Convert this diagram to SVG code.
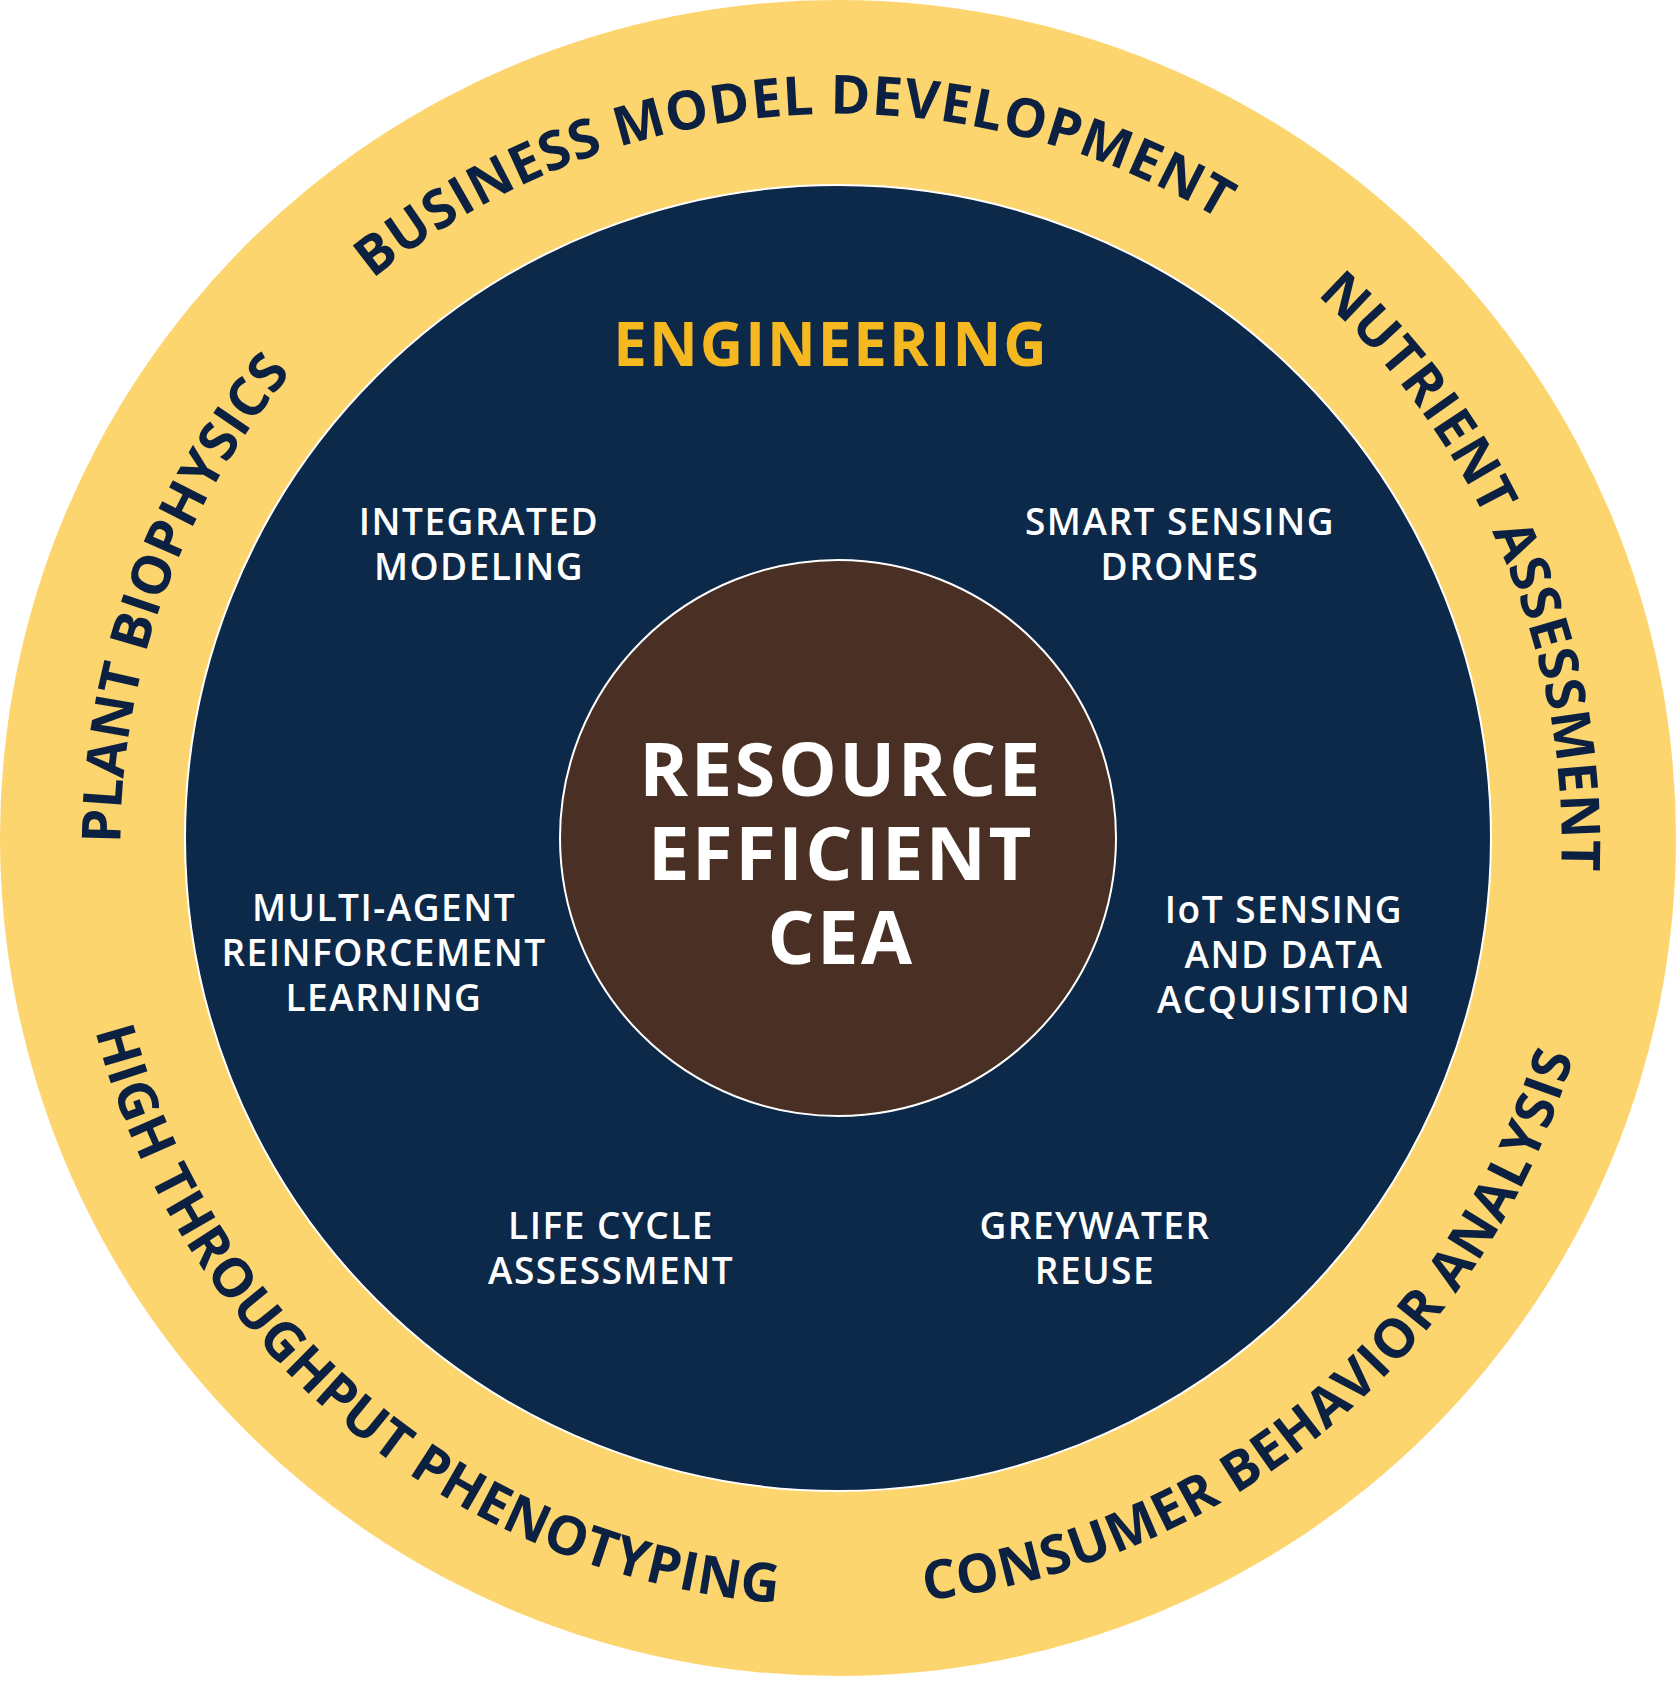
<svg xmlns="http://www.w3.org/2000/svg" width="1676" height="1687" viewBox="0 0 1676 1687">
<style>
.ring{font-family:"Open Sans","Liberation Sans",sans-serif;font-weight:700;font-size:54px;fill:#0C2142}
.lbl{font-family:"Open Sans","Liberation Sans",sans-serif;font-weight:600;font-size:37px;fill:#fff;text-anchor:middle;letter-spacing:1.5px}
.core{font-family:"Open Sans","Liberation Sans",sans-serif;font-weight:700;font-size:74px;fill:#fff;text-anchor:middle;letter-spacing:2.5px}
.eng{font-family:"Open Sans","Liberation Sans",sans-serif;font-weight:700;font-size:60px;fill:#F5B820;text-anchor:middle;letter-spacing:2px}
</style>
<defs>
<path id="pBus" d="M 100 890 A 740 740 0 0 1 1576 786"/>
<path id="pNut" d="M 549 157 A 740 740 0 0 1 1127 1519"/>
<path id="pPla" d="M 585 1533 A 740 740 0 0 1 1091 143"/>
<path id="pHig" d="M 250 345 A 767 767 0 0 0 1426 1331"/>
<path id="pCon" d="M 250 1331 A 767 767 0 0 0 1426 345"/>
</defs>
<g id="outer"><circle cx="838" cy="838" r="838" fill="#FDD56E"/></g>
<g id="engineering"><circle cx="838" cy="838" r="653" fill="#0C2949" stroke="#fff" stroke-width="2"/></g>
<g id="core"><circle cx="838" cy="838" r="278" fill="#4A3024" stroke="#fff" stroke-width="2"/></g>
<g id="ring-labels">
<text class="ring"><textPath href="#pBus" startOffset="50%" text-anchor="middle" textLength="905" lengthAdjust="spacing">BUSINESS MODEL DEVELOPMENT</textPath></text>
<text class="ring"><textPath href="#pNut" startOffset="50%" text-anchor="middle" textLength="646" lengthAdjust="spacing">NUTRIENT ASSESSMENT</textPath></text>
<text class="ring"><textPath href="#pPla" startOffset="50%" text-anchor="middle" textLength="511" lengthAdjust="spacing">PLANT BIOPHYSICS</textPath></text>
<text class="ring"><textPath href="#pHig" startOffset="50%" text-anchor="middle" textLength="950" lengthAdjust="spacing">HIGH THROUGHPUT PHENOTYPING</textPath></text>
<text class="ring"><textPath href="#pCon" startOffset="50%" text-anchor="middle" textLength="897" lengthAdjust="spacing">CONSUMER BEHAVIOR ANALYSIS</textPath></text>
</g>
<g id="title"><text class="eng" x="831" y="366">ENGINEERING</text></g>
<g id="n-modeling"><text class="lbl" x="479" y="535">INTEGRATED</text><text class="lbl" x="479" y="580">MODELING</text></g>
<g id="n-drones"><text class="lbl" x="1180" y="535">SMART SENSING</text><text class="lbl" x="1180" y="580">DRONES</text></g>
<g id="n-marl"><text class="lbl" x="384" y="921">MULTI-AGENT</text><text class="lbl" x="384" y="966">REINFORCEMENT</text><text class="lbl" x="384" y="1011">LEARNING</text></g>
<g id="n-iot"><text class="lbl" x="1284" y="923">IoT SENSING</text><text class="lbl" x="1284" y="968">AND DATA</text><text class="lbl" x="1284" y="1013">ACQUISITION</text></g>
<g id="n-lca"><text class="lbl" x="611" y="1239">LIFE CYCLE</text><text class="lbl" x="611" y="1284">ASSESSMENT</text></g>
<g id="n-grey"><text class="lbl" x="1095" y="1239">GREYWATER</text><text class="lbl" x="1095" y="1284">REUSE</text></g>
<g id="center-text"><text class="core" x="841" y="796">RESOURCE</text><text class="core" x="841" y="880">EFFICIENT</text><text class="core" x="841" y="964">CEA</text></g>
<g id="connectors"/>
</svg>
